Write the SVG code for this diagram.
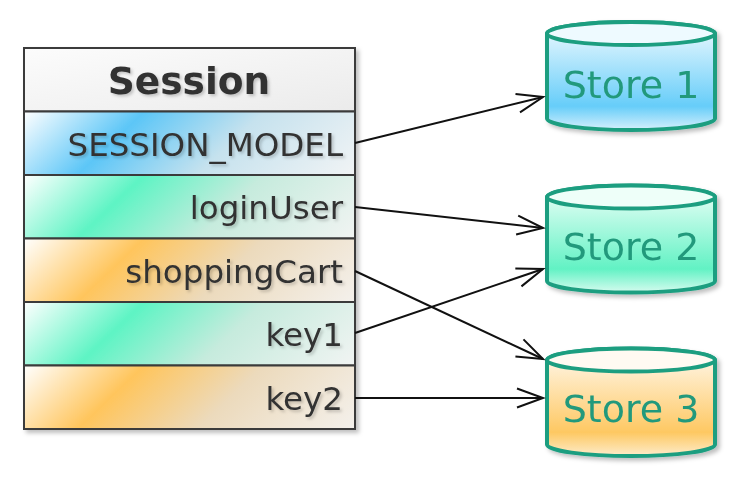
<svg xmlns="http://www.w3.org/2000/svg" width="744" height="484" viewBox="0 0 744 484">
<style>
.rowtxt{font-family:"DejaVu Sans",Verdana,sans-serif;font-size:32.5px;fill:#333;text-anchor:end;filter:url(#tshadow)}
.hdr{font-family:"DejaVu Sans",Verdana,sans-serif;font-size:37.5px;font-weight:bold;fill:#333;text-anchor:middle;filter:url(#tshadow)}
.stxt{font-family:"DejaVu Sans",Verdana,sans-serif;font-size:38px;fill:#23997c;text-anchor:middle}
.row{stroke:#3a3a3a;stroke-width:2}
.cyl{stroke:#1f9e80;stroke-width:4}
.conn{fill:none;stroke:#111;stroke-width:2;marker-end:url(#arr)}
</style>
<defs>
<filter id="shadow" x="-10%" y="-10%" width="130%" height="130%">
<feDropShadow dx="3" dy="3" stdDeviation="2" flood-color="#000" flood-opacity="0.25"/>
</filter>
<filter id="tshadow" x="-5%" y="-20%" width="115%" height="150%">
<feDropShadow dx="2" dy="2" stdDeviation="1.5" flood-color="#000" flood-opacity="0.2"/>
</filter>
<linearGradient id="gHdr" x1="0" y1="0" x2="1" y2="1">
<stop offset="0" stop-color="#fcfcfc"/><stop offset="1" stop-color="#ebebeb"/>
</linearGradient>
<linearGradient id="gBlue" gradientUnits="userSpaceOnUse" x1="0" y1="0" x2="190" y2="200">
<stop offset="0" stop-color="#ffffff"/><stop offset="0.3" stop-color="#5cc6f7"/><stop offset="0.6" stop-color="#c6e2ee"/><stop offset="1" stop-color="#f2f4f5"/>
</linearGradient>
<linearGradient id="gGreen" gradientUnits="userSpaceOnUse" x1="0" y1="0" x2="190" y2="200">
<stop offset="0" stop-color="#ffffff"/><stop offset="0.3" stop-color="#5ef4c4"/><stop offset="0.6" stop-color="#c6ebdd"/><stop offset="1" stop-color="#f2f4f3"/>
</linearGradient>
<linearGradient id="gOrange" gradientUnits="userSpaceOnUse" x1="0" y1="0" x2="190" y2="200">
<stop offset="0" stop-color="#ffffff"/><stop offset="0.3" stop-color="#ffc55c"/><stop offset="0.6" stop-color="#ecdabc"/><stop offset="1" stop-color="#f4f1ed"/>
</linearGradient>
<linearGradient id="cBlue" x1="0" y1="0" x2="0" y2="1">
<stop offset="0" stop-color="#f2fbff"/><stop offset="0.78" stop-color="#66cdf9"/><stop offset="1" stop-color="#d6f0fc"/>
</linearGradient>
<linearGradient id="cGreen" x1="0" y1="0" x2="0" y2="1">
<stop offset="0" stop-color="#effff9"/><stop offset="0.78" stop-color="#62f2c4"/><stop offset="1" stop-color="#d6fbef"/>
</linearGradient>
<linearGradient id="cOrange" x1="0" y1="0" x2="0" y2="1">
<stop offset="0" stop-color="#fffaf2"/><stop offset="0.78" stop-color="#fec862"/><stop offset="1" stop-color="#fdeccb"/>
</linearGradient>
<marker id="arr" markerUnits="userSpaceOnUse" markerWidth="32" markerHeight="24" refX="27" refY="11" orient="auto">
<path d="M1,1.5 L27,11 L1,20.5" fill="none" stroke="#111" stroke-width="2"/>
</marker>
</defs>

<g id="session" filter="url(#shadow)">
<rect x="24" y="48" width="331" height="381" fill="#fff" stroke="#444" stroke-width="2"/>
<g id="session-header">
<rect x="24" y="48" width="331" height="63.5" fill="url(#gHdr)" class="row"/>
<text x="189" y="94" class="hdr">Session</text>
</g>
<g id="row-session-model" transform="translate(24,111.5)">
<rect x="0" y="0" width="331" height="63.5" fill="url(#gBlue)" class="row"/>
<text x="319" y="44" class="rowtxt">SESSION_MODEL</text>
</g>
<g id="row-loginUser" transform="translate(24,175)">
<rect x="0" y="0" width="331" height="63.5" fill="url(#gGreen)" class="row"/>
<text x="319" y="44" class="rowtxt">loginUser</text>
</g>
<g id="row-shoppingCart" transform="translate(24,238.5)">
<rect x="0" y="0" width="331" height="63.5" fill="url(#gOrange)" class="row"/>
<text x="319" y="44" class="rowtxt">shoppingCart</text>
</g>
<g id="row-key1" transform="translate(24,302)">
<rect x="0" y="0" width="331" height="63.5" fill="url(#gGreen)" class="row"/>
<text x="319" y="44" class="rowtxt">key1</text>
</g>
<g id="row-key2" transform="translate(24,365.5)">
<rect x="0" y="0" width="331" height="63.5" fill="url(#gOrange)" class="row"/>
<text x="319" y="44" class="rowtxt">key2</text>
</g>
</g>

<g id="store1" filter="url(#shadow)">
<path class="cyl" fill="url(#cBlue)" d="M547,33.5 L547,118.5 A84,11.5 0 0 0 715,118.5 L715,33.5 A84,11.5 0 0 0 547,33.5 Z"/>
<ellipse class="cyl" cx="631" cy="33.5" rx="84" ry="11.5" fill="#eefaff"/>
<text x="631" y="97.5" class="stxt">Store 1</text>
</g>
<g id="store2" filter="url(#shadow)">
<path class="cyl" fill="url(#cGreen)" d="M547,197 L547,281 A84,11.5 0 0 0 715,281 L715,197 A84,11.5 0 0 0 547,197 Z"/>
<ellipse class="cyl" cx="631" cy="197" rx="84" ry="11.5" fill="#eefff9"/>
<text x="631" y="259.5" class="stxt">Store 2</text>
</g>
<g id="store3" filter="url(#shadow)">
<path class="cyl" fill="url(#cOrange)" d="M547,360 L547,444.5 A84,11.5 0 0 0 715,444.5 L715,360 A84,11.5 0 0 0 547,360 Z"/>
<ellipse class="cyl" cx="631" cy="360" rx="84" ry="11.5" fill="#fffaf2"/>
<text x="631" y="421.5" class="stxt">Store 3</text>
</g>

<g id="connectors">
<line class="conn" x1="355" y1="143" x2="543" y2="97"/>
<line class="conn" x1="355" y1="207" x2="543" y2="228"/>
<line class="conn" x1="355" y1="271" x2="543" y2="359"/>
<line class="conn" x1="355" y1="333" x2="543" y2="269"/>
<line class="conn" x1="355" y1="398" x2="543" y2="398"/>
</g>
</svg>
